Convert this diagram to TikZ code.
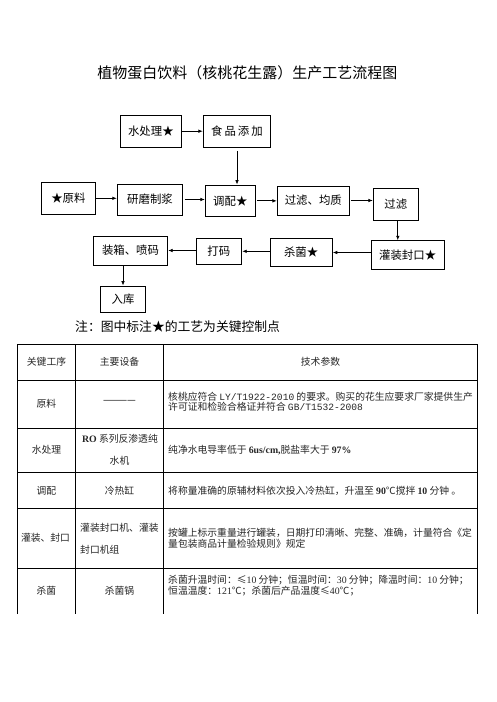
\documentclass[tikz,border=0pt]{standalone}
\usepackage{fontspec}
\setmainfont{Noto Sans CJK SC}
\newfontfamily\ser{Liberation Serif}
\newfontfamily\mono{Liberation Mono}
\usetikzlibrary{arrows.meta}
\newcommand{\fsbox}{\fontsize{11.4}{13}\selectfont}
\newcommand{\fstab}{\fontsize{9.8}{11}\selectfont}
\tikzset{
  box/.style={draw, line width=0.9pt, inner sep=0pt, font=\fsbox},
  arr/.style={-{Latex[length=4.5pt,width=3.6pt]}, line width=0.8pt},
  cell/.style={font=\fstab, inner sep=0pt, text=black!85},
  grid/.style={line width=1pt},
}
\begin{document}
\begin{tikzpicture}[x=1pt,y=-1pt]
\useasboundingbox[fill=white] (0,0) rectangle (496,702);
% title
\node[font=\fontsize{15}{17}\selectfont, inner sep=0pt] (title) at (247.3,72.7) {植物蛋白饮料（核桃花生露）生产工艺流程图};
% boxes
\node[box, minimum width=61.7pt, minimum height=32.3pt] (shui) at (150.85,131.2) {水处理★};
\node[box, minimum width=67.4pt, minimum height=32pt] (shipin) at (237,131) {食\hspace{2pt}品\hspace{2pt}添\hspace{2pt}加};
\node[box, minimum width=53.3pt, minimum height=32pt] (yuan) at (68.35,198.3) {★原料};
\node[box, minimum width=65.4pt, minimum height=31pt] (yanmo) at (150,199.5) {研磨制浆\hspace{5pt}};
\node[box, minimum width=50pt, minimum height=31.7pt] (tiao) at (230.3,200.85) {调配★};
\node[box, minimum width=72pt, minimum height=29pt] (jun) at (313.3,200.5) {过滤、均质\hspace{7pt}};
\node[box, minimum width=45pt, minimum height=31.7pt] (guolv) at (395.8,204.15) {过滤};
\node[box, minimum width=73.3pt, minimum height=28.6pt] (guan) at (407.65,255) {灌装封口★};
\node[box, minimum width=62.3pt, minimum height=28.4pt] (sha) at (301.15,252.5) {杀菌★};
\node[box, minimum width=45.7pt, minimum height=26pt] (dama) at (218.85,251.3) {打码};
\node[box, minimum width=74.4pt, minimum height=29pt] (zx) at (130.5,250.5) {装箱、喷码\hspace{4pt}};
\node[box, minimum width=45.4pt, minimum height=26.3pt] (ruku) at (123,299.15) {入库\hspace{8pt}};
% arrows
\draw[arr] (shui.east) -- (shui.east -| shipin.west);
\draw[arr, shorten <=3.5pt] (shipin.south) -- (shipin.south |- tiao.north);
\draw[arr] (yuan.east) -- (yuan.east -| yanmo.west);
\draw[arr, shorten <=1.5pt] (yanmo.east) -- (yanmo.east -| tiao.west);
\draw[arr, shorten <=1.5pt] (tiao.east) -- (tiao.east -| jun.west);
\draw[arr, shorten <=1pt] (jun.east) -- (jun.east -| guolv.west);
\draw[arr] ([xshift=2pt]guolv.south) -- ([xshift=2pt]guolv.south |- guan.north);
\draw[arr] (sha.east -| guan.west) -- (sha.east);
\draw[arr] (dama.east -| sha.west) -- (dama.east);
\draw[arr] (zx.east -| dama.west) -- (zx.east);
\draw[arr] (ruku.north |- zx.south) -- (ruku.north);
% note
\node[anchor=west, font=\fontsize{12.8}{15}\selectfont, inner sep=0pt] (note) at (75,326.7) {注：图中标注★的工艺为关键控制点};
% table grid
\draw[grid] (17.3,614) -- (17.3,344) -- (477.7,344) -- (477.7,614);
\draw[grid] (75.7,344) -- (75.7,614);
\draw[grid] (163.3,344) -- (163.3,614);
\foreach \yy in {380,428.7,472.3,508.3,568.3}{\draw[grid] (17.3,\yy) -- (477.7,\yy);}
% header
\node[cell] (h1) at (46.5,362) {关键工序};
\node[cell] (h2) at (119.5,362) {主要设备};
\node[cell] (h3) at (320.5,362) {技术参数};
% row 1
\node[cell] (r1a) at (46.5,404) {原料};
\node[cell, text=black] (r1b) at (119.5,402) {————};
\node[cell, anchor=west] (r1c1) at (168,396.5) {核桃应符合 {\mono\fontsize{9.6}{11}\selectfont LY/T1922-2010} 的要求。购买的花生应要求厂家提供生产};
\node[cell, anchor=west] (r1c2) at (168,407.2) {许可证和检验合格证并符合 {\mono\fontsize{9.6}{11}\selectfont GB/T1532-2008}};
% row 2
\node[cell] (r2a) at (46.5,449.3) {水处理};
\node[cell] (r2b1) at (120,438.3) {{\ser\bfseries RO} 系列反渗透纯};
\node[cell] (r2b2) at (119.5,460.7) {水机};
\node[cell, anchor=west] (r2c) at (168,450) {纯净水电导率低于 {\ser\bfseries 6us/cm,}脱盐率大于 {\ser\bfseries 97\%}};
% row 3
\node[cell] (r3a) at (46.5,490.7) {调配};
\node[cell] (r3b) at (119.5,491) {冷热缸};
\node[cell, anchor=west] (r3c) at (168,490.7) {将称量准确的原辅材料依次投入冷热缸，升温至 {\ser\bfseries 90}℃搅拌 {\ser\bfseries 10} 分钟 。};
% row 4
\node[cell] (r4a) at (45.5,537.3) {灌装、封口};
\node[cell, anchor=west] (r4b1) at (80,527.3) {灌装封口机、灌装};
\node[cell, anchor=west] (r4b2) at (80,549.3) {封口机组};
\node[cell, anchor=west] (r4c1) at (168,532.7) {按罐上标示重量进行罐装，日期打印清晰、完整、准确，计量符合《定};
\node[cell, anchor=west] (r4c2) at (168,543.3) {量包装商品计量检验规则》规定};
% row 5
\node[cell] (r5a) at (46.5,590.7) {杀菌};
\node[cell] (r5b) at (119.5,590.7) {杀菌锅};
\node[cell, anchor=west] (r5c1) at (168,580) {杀菌升温时间：≤{\ser 10} 分钟；恒温时间：{\ser 30} 分钟；降温时间：{\ser 10} 分钟；};
\node[cell, anchor=west] (r5c2) at (168,590.7) {恒温温度：{\ser 121}℃；杀菌后产品温度≤{\ser 40}℃；};
\end{tikzpicture}
\end{document}
